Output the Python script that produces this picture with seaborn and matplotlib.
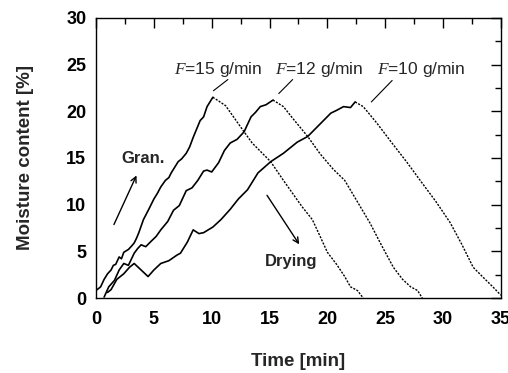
import matplotlib
matplotlib.use("Agg")
import matplotlib.pyplot as plt
import seaborn as sb
import pandas as pd
from matplotlib.ticker import MultipleLocator

# values: time [min], moisture content [%]
t15 = [0.1, 0.4, 0.7, 1.0, 1.3, 1.5, 1.7, 2.0, 2.2, 2.4, 2.8, 3.1, 3.3, 3.5, 3.7,
       4.1, 4.6, 5.0, 5.3, 5.6, 6.0, 6.3, 6.5, 7.1, 7.4, 7.8, 8.1, 8.4, 9.0, 9.3,
       9.6, 10.1]
m15 = [0.9, 1.2, 2.0, 2.6, 3.0, 3.5, 3.6, 4.4, 4.2, 4.9, 5.2, 5.6, 5.9, 6.4, 7.0,
       8.4, 9.6, 10.6, 11.2, 11.9, 12.6, 12.9, 13.4, 14.6, 14.9, 15.5, 16.2, 17.2,
       19.0, 19.4, 20.5, 21.5]
t15_dry = [10.1, 10.6, 11.2, 12.0, 12.8, 13.5, 14.3, 15.1, 16.2, 17.0, 17.8, 18.7,
           19.3, 20.0, 20.8, 21.5, 22.0, 22.6, 23.1]
m15_dry = [21.5, 21.1, 20.6, 19.2, 17.8, 16.6, 15.6, 14.6, 12.6, 11.2, 9.8, 8.4,
           6.8, 4.9, 3.6, 2.3, 1.2, 0.8, 0.0]

t12 = [0.7, 1.1, 1.6, 2.0, 2.4, 2.8, 3.3, 3.6, 3.9, 4.3, 4.7, 5.2, 5.6, 6.2, 6.7,
       7.2, 7.8, 8.3, 8.8, 9.3, 9.6, 10.0, 10.6, 11.1, 11.6, 12.2, 12.8, 13.4, 13.8,
       14.2, 14.7, 15.3]
m12 = [0.1, 1.2, 1.9, 3.0, 3.7, 3.5, 4.8, 5.3, 5.7, 5.5, 6.0, 6.6, 7.3, 8.2, 9.4,
       9.9, 11.5, 11.8, 12.6, 13.6, 13.7, 13.5, 14.5, 15.8, 16.6, 17.0, 17.8, 19.4,
       19.9, 20.5, 20.7, 21.2]
t12_dry = [15.3, 16.2, 17.1, 18.3, 19.4, 20.5, 21.5, 22.6, 23.7, 24.7, 25.7, 26.5,
           27.2, 27.8, 28.2]
m12_dry = [21.2, 20.5, 19.1, 17.3, 15.4, 13.8, 12.6, 10.3, 8.0, 5.6, 3.3, 2.0,
           1.2, 0.8, 0.0]

t10 = [1.0, 1.3, 1.8, 2.4, 2.9, 3.3, 3.9, 4.5, 5.0, 5.6, 6.3, 7.0, 7.3, 7.9, 8.4,
       8.9, 9.3, 10.1, 10.8, 11.6, 12.3, 13.1, 14.0, 15.1, 16.2, 17.4, 18.3, 19.1,
       20.3, 20.8, 21.4, 22.0, 22.4]
m10 = [0.6, 0.9, 2.0, 2.6, 3.3, 3.7, 3.0, 2.3, 3.0, 3.7, 4.0, 4.6, 4.8, 6.0, 7.3,
       6.9, 7.0, 7.6, 8.4, 9.5, 10.6, 11.6, 13.4, 14.6, 15.5, 16.7, 17.3, 18.3,
       19.8, 20.1, 20.5, 20.4, 21.0]
t10_dry = [22.4, 23.1, 24.3, 25.4, 26.9, 28.2, 29.4, 30.6, 31.6, 32.6, 33.4, 34.3, 35.0]
m10_dry = [21.0, 20.5, 18.7, 16.9, 14.5, 12.3, 10.3, 8.1, 5.8, 3.3, 2.3, 1.2, 0.3]

rises = [(t15, m15), (t12, m12), (t10, m10)]
drys = [(t15_dry, m15_dry), (t12_dry, m12_dry), (t10_dry, m10_dry)]

sb.set_style("white")
plt.rcParams['font.family'] = ['Liberation Sans', 'DejaVu Sans']
plt.rcParams['mathtext.fontset'] = 'custom'
plt.rcParams['mathtext.it'] = 'Liberation Serif:italic'

fig = plt.figure(figsize=(5.08, 3.73), dpi=100)
ax = fig.add_axes([0.189, 0.201, 0.797, 0.751])

for t, m in rises:
    df = pd.DataFrame({"t": t, "m": m})
    sb.lineplot(data=df, x="t", y="m", sort=False, estimator=None,
                color="black", lw=1.2, ax=ax)
for t, m in drys:
    df = pd.DataFrame({"t": t, "m": m})
    sb.lineplot(data=df, x="t", y="m", sort=False, estimator=None,
                color="black", lw=1.0, ax=ax, linestyle=(0, (1.5, 1)))

ax.set_xlim(0, 35)
ax.set_ylim(0, 30)
ax.xaxis.set_major_locator(MultipleLocator(5))
ax.xaxis.set_minor_locator(MultipleLocator(2.5))
ax.yaxis.set_major_locator(MultipleLocator(5))
ax.yaxis.set_minor_locator(MultipleLocator(2.5))
ax.tick_params(which="both", direction="in", top=True, right=True, width=1.0,
               labelsize=13, colors="black")
ax.tick_params(which="major", length=7)
ax.tick_params(which="minor", length=4.5)
ax.tick_params(axis="x", pad=9.5)
ax.tick_params(axis="y", pad=7)
for lab in ax.get_xticklabels() + ax.get_yticklabels():
    lab.set_fontweight("bold")
for s in ax.spines.values():
    s.set_color("black")
    s.set_linewidth(1.0)

ax.set_xlabel("Time [min]", fontsize=13.5, fontweight="bold", labelpad=18)
ax.set_ylabel("Moisture content [%]", fontsize=13.5, fontweight="bold", labelpad=23)

# curve labels with leader lines
ax.text(6.7, 24.5, "$F$=15 g/min", fontsize=12.5, va="center")
ax.plot([10.15, 11.4], [22.2, 23.4], color="black", lw=0.8)
ax.text(15.5, 24.5, "$F$=12 g/min", fontsize=12.5, va="center")
ax.plot([15.8, 17.0], [21.9, 23.4], color="black", lw=0.8)
ax.text(24.3, 24.5, "$F$=10 g/min", fontsize=12.5, va="center")
ax.plot([23.8, 25.6], [21.0, 23.3], color="black", lw=0.8)

ax.text(2.2, 14.9, "Gran.", fontsize=12, fontweight="bold", va="center")
ax.annotate("", xy=(3.6, 13.4), xytext=(1.45, 7.6),
            arrowprops=dict(arrowstyle="->", color="black", lw=1.0))
ax.text(14.6, 3.9, "Drying", fontsize=12, fontweight="bold", va="center")
ax.annotate("", xy=(17.7, 5.5), xytext=(14.65, 11.25),
            arrowprops=dict(arrowstyle="->", color="black", lw=1.0))

fig.savefig("out.png", dpi=100)
